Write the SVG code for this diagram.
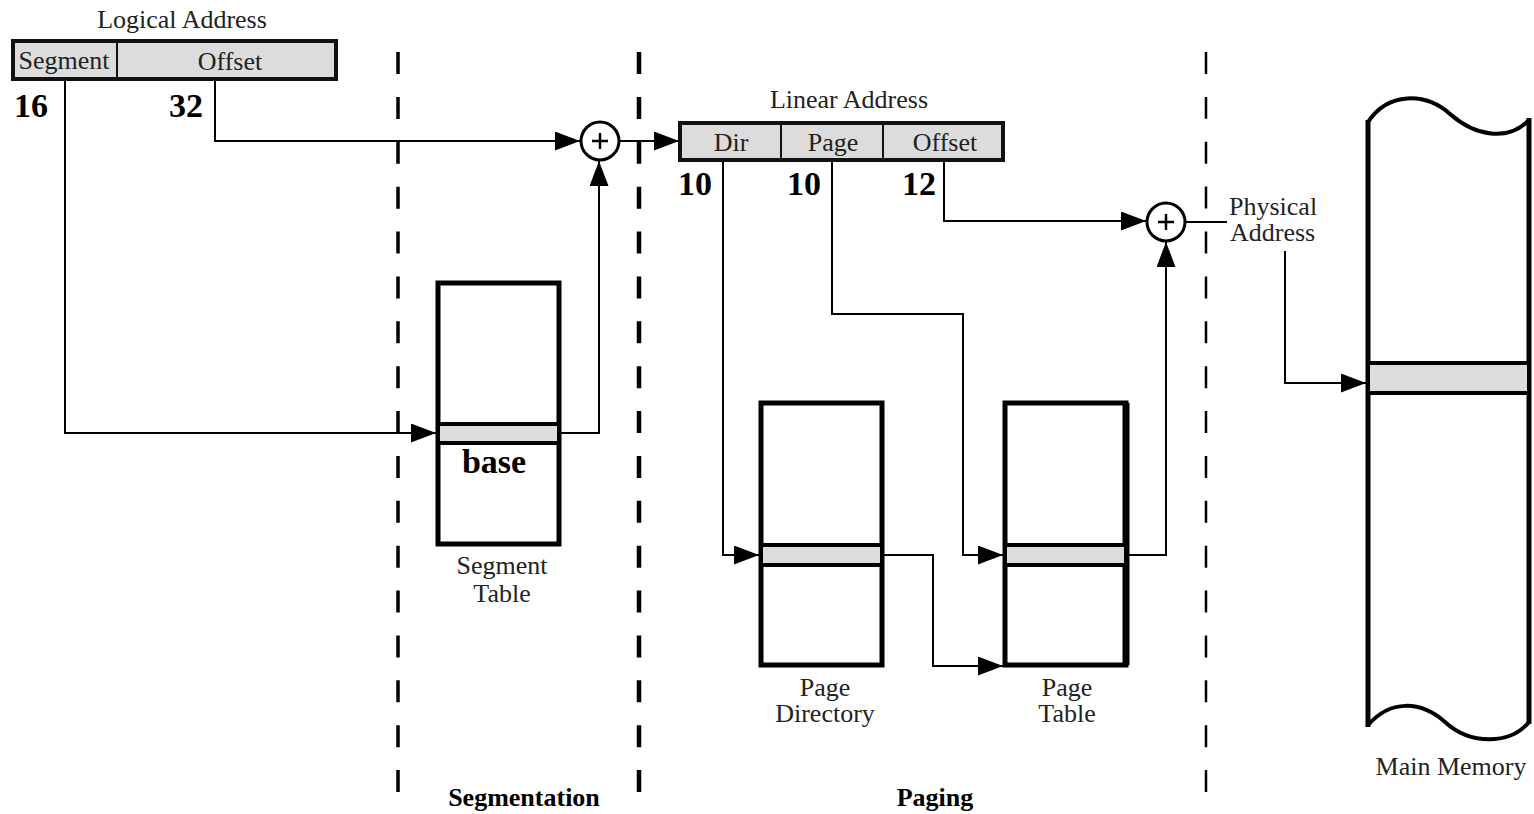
<svg xmlns="http://www.w3.org/2000/svg" width="1534" height="814" viewBox="0 0 1534 814">
<style>
.t{font-family:"Liberation Serif","Times New Roman",serif;font-size:26px;fill:#222}
.b{font-family:"Liberation Serif","Times New Roman",serif;font-weight:bold;fill:#000}
.box{fill:#dcdcdc;stroke:#111;stroke-width:4}
.div{stroke:#111;stroke-width:2}
.tbl{fill:#fff;stroke:#000;stroke-width:5}
.row{fill:#dcdcdc;stroke:#000;stroke-width:4}
.c{fill:none;stroke:#000;stroke-width:2}
.a{marker-end:url(#ar)}
.dash{stroke:#000;fill:none;stroke-dasharray:22 22.875}
.sum{fill:#fff;stroke:#000;stroke-width:3}
</style>
<defs>
<marker id="ar" markerUnits="userSpaceOnUse" markerWidth="26" markerHeight="20" refX="25" refY="9.5" orient="auto">
<path d="M0,0 L25,9.5 L0,19 z" fill="#000"/>
</marker>
</defs>
<rect width="1534" height="814" fill="#fff"/>

<g id="dividers">
<line class="dash" x1="398" y1="52" x2="398" y2="792" stroke-width="3.5"/>
<line class="dash" x1="639" y1="52" x2="639" y2="792" stroke-width="4.5"/>
<line class="dash" x1="1206" y1="52" x2="1206" y2="794" stroke-width="2.5"/>
</g>

<g id="connectors">
<polyline class="c a" points="65,81 65,433 436,433"/>
<polyline class="c a" points="215,81 215,141 580,141"/>
<polyline class="c a" points="559,433 599,433 599,161"/>
<polyline class="c a" points="620,141 679,141"/>
<polyline class="c a" points="723,161 723,555 759,555"/>
<polyline class="c a" points="832,161 832,314 963,314 963,555 1003,555"/>
<polyline class="c a" points="882,555 933,555 933,666 1003,666"/>
<polyline class="c a" points="944,161 944,221 1146,221"/>
<polyline class="c a" points="1125,555 1166,555 1166,242"/>
<line class="c" x1="1186" y1="222" x2="1227" y2="222"/>
<polyline class="c a" points="1285,251 1285,383 1366,383"/>
</g>

<g id="logical-address">
<text class="t" x="182" y="28" text-anchor="middle">Logical Address</text>
<rect class="box" x="13" y="41" width="323" height="38"/>
<line class="div" x1="117" y1="41" x2="117" y2="79"/>
<text class="t" x="64" y="69" text-anchor="middle">Segment</text>
<text class="t" x="230" y="70" text-anchor="middle">Offset</text>
<text class="b" x="14" y="117" font-size="34">16</text>
<text class="b" x="169" y="117" font-size="34">32</text>
</g>

<g id="adder-1">
<circle class="sum" cx="600" cy="141" r="19"/>
<path d="M592,141 H608 M600,133 V149" stroke="#000" stroke-width="2.5"/>
</g>

<g id="linear-address">
<text class="t" x="849" y="108" text-anchor="middle">Linear Address</text>
<rect class="box" x="680" y="123" width="323" height="37"/>
<line class="div" x1="781" y1="123" x2="781" y2="160"/>
<line class="div" x1="883" y1="123" x2="883" y2="160"/>
<text class="t" x="731" y="151" text-anchor="middle">Dir</text>
<text class="t" x="833" y="151" text-anchor="middle">Page</text>
<text class="t" x="945" y="151" text-anchor="middle">Offset</text>
<text class="b" x="678" y="195" font-size="34">10</text>
<text class="b" x="787" y="195" font-size="34">10</text>
<text class="b" x="902" y="195" font-size="34">12</text>
</g>

<g id="segment-table">
<rect class="tbl" x="438" y="283" width="121" height="261"/>
<rect class="row" x="438" y="424" width="121" height="19"/>
<text class="b" x="494" y="473" font-size="34" text-anchor="middle">base</text>
<text class="t" x="502" y="574" text-anchor="middle">Segment</text>
<text class="t" x="502" y="602" text-anchor="middle">Table</text>
</g>

<g id="page-directory">
<rect class="tbl" x="761" y="403" width="121" height="262"/>
<rect class="row" x="761" y="545" width="121" height="20"/>
<text class="t" x="825" y="696" text-anchor="middle">Page</text>
<text class="t" x="825" y="722" text-anchor="middle">Directory</text>
</g>

<g id="page-table">
<rect class="tbl" x="1005" y="403" width="121" height="262"/>
<line x1="1126" y1="403" x2="1126" y2="665" stroke="#000" stroke-width="7"/>
<rect class="row" x="1005" y="545" width="121" height="20"/>
<text class="t" x="1067" y="696" text-anchor="middle">Page</text>
<text class="t" x="1067" y="722" text-anchor="middle">Table</text>
</g>

<g id="adder-2">
<circle class="sum" cx="1166" cy="222" r="19"/>
<path d="M1158,222 H1174 M1166,214 V230" stroke="#000" stroke-width="2.5"/>
<text class="t" x="1229" y="215">Physical</text>
<text class="t" x="1230" y="241">Address</text>
</g>

<g id="main-memory">
<path d="M1368,122 C1388,92 1425,92 1450,114 C1475,136 1508,142 1529,120 L1529,722 C1510,745 1470,745 1445,722 C1420,700 1390,700 1368,725 Z" fill="#fff" stroke="none"/>
<path d="M1368,122 C1388,92 1425,92 1450,114 C1475,136 1508,142 1529,120" fill="none" stroke="#000" stroke-width="4"/>
<path d="M1368,725 C1390,700 1420,700 1445,722 C1470,745 1510,745 1529,722" fill="none" stroke="#000" stroke-width="4"/>
<line x1="1368" y1="120" x2="1368" y2="727" stroke="#000" stroke-width="5"/>
<line x1="1529" y1="118" x2="1529" y2="724" stroke="#000" stroke-width="5"/>
<rect x="1368" y="363" width="161" height="30" fill="#dcdcdc" stroke="#000" stroke-width="4"/>
<text class="t" x="1451" y="775" text-anchor="middle">Main Memory</text>
</g>

<g id="section-labels">
<text class="b" x="524" y="806" font-size="26" text-anchor="middle">Segmentation</text>
<text class="b" x="935" y="806" font-size="26" text-anchor="middle">Paging</text>
</g>
</svg>
